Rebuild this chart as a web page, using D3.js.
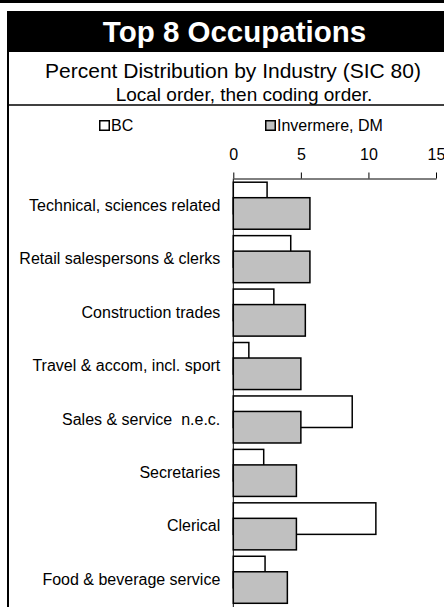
<!DOCTYPE html>
<html>
<head>
<meta charset="utf-8">
<script src="https://d3js.org/d3.v7.min.js"></script>
<style>
  body { margin: 0; background: #fff; }
  svg { display: block; font-family: "Liberation Sans", Arial, sans-serif; }
</style>
</head>
<body>
<div id="chart"></div>
<script>
//the 8 occupations, top to bottom
var categories = ["Technical, sciences related", "Retail salespersons & clerks", "Construction trades",
  "Travel & accom, incl. sport", "Sales & service  n.e.c.", "Secretaries", "Clerical", "Food & beverage service"];
var seriesNames = ["BC", "Invermere, DM"];
var bcValues = [2.5, 4.25, 3.0, 1.15, 8.8, 2.25, 10.55, 2.35];
var invValues = [5.67, 5.67, 5.33, 5.0, 5.0, 4.67, 4.67, 4.0];
var tickValues = [0, 5, 10, 15];

var width = 444;
var height = 607;

var svg = d3.select("#chart").append("svg")
    .attr("width", width)
    .attr("height", height);

///////////////////////////////////////////////////////////////////////////
//////////////////////////// Frame and titles /////////////////////////////
///////////////////////////////////////////////////////////////////////////

//thin black strip on top
svg.append("rect")
    .attr("x", 0).attr("y", 0)
    .attr("width", width).attr("height", 3)
    .attr("fill", "#000");

//title band
svg.append("rect")
    .attr("x", 7).attr("y", 11)
    .attr("width", width).attr("height", 41)
    .attr("fill", "#000");

svg.append("text")
    .attr("x", 234.5).attr("y", 42)
    .attr("text-anchor", "middle")
    .attr("fill", "#fff")
    .style("font-size", "29.5px")
    .style("font-weight", "bold")
    .text("Top 8 Occupations");

//left border and the line under the subtitle
svg.append("line")
    .attr("x1", 8).attr("x2", 8)
    .attr("y1", 52).attr("y2", height)
    .attr("stroke", "#000").attr("stroke-width", 2);

svg.append("line")
    .attr("x1", 8).attr("x2", width)
    .attr("y1", 105).attr("y2", 105)
    .attr("stroke", "#000").attr("stroke-width", 1.5);

svg.append("text")
    .attr("x", 233).attr("y", 78)
    .attr("text-anchor", "middle")
    .style("font-size", "21px")
    .text("Percent Distribution by Industry (SIC 80)");

svg.append("text")
    .attr("x", 244).attr("y", 101)
    .attr("text-anchor", "middle")
    .style("font-size", "19px")
    .text("Local order, then coding order.");

///////////////////////////////////////////////////////////////////////////
/////////////////////////////// Legend ////////////////////////////////////
///////////////////////////////////////////////////////////////////////////

var legendX = [99, 265];
var legendFill = ["#fff", "#c0c0c0"];

var legend = svg.selectAll(".legend")
    .data(seriesNames)
    .enter().append("g")
    .attr("class", "legend")
    .attr("transform", function(d, i) { return "translate(" + legendX[i] + ",120)"; });

legend.append("rect")
    .attr("x", 0.75).attr("y", 0.75)
    .attr("width", 9.5).attr("height", 9.5)
    .attr("fill", function(d, i) { return legendFill[i]; })
    .attr("stroke", "#000")
    .attr("stroke-width", 1.5);

legend.append("text")
    .attr("x", 12).attr("y", 10.5)
    .style("font-size", "16px")
    .text(function(d) { return d; });

///////////////////////////////////////////////////////////////////////////
//////////////////////////// Scales and axes //////////////////////////////
///////////////////////////////////////////////////////////////////////////

var x = d3.scaleLinear()
    .domain([0, 15])
    .range([233.3, 436]);

var y = d3.scaleBand()
    .domain(categories)
    .range([179, 606.5]);

//value axis on top, ticks pointing up
var xAxis = svg.append("g")
    .attr("transform", "translate(0,178.5)")
    .call(d3.axisTop(x).tickValues(tickValues).tickSize(6).tickSizeOuter(0).tickPadding(13));

xAxis.select(".domain").attr("stroke", "#000");
xAxis.selectAll(".tick line").attr("stroke", "#000");
xAxis.selectAll(".tick text")
    .style("font-size", "16px")
    .style("font-family", "\"Liberation Sans\", Arial, sans-serif")
    .attr("fill", "#000");

//category axis
var yAxis = svg.append("g")
    .attr("transform", "translate(233.3,0)")
    .call(d3.axisLeft(y).tickSize(0).tickPadding(13));

yAxis.select(".domain").attr("stroke", "#000").attr("d", "M0,178.5V" + height);
yAxis.selectAll(".tick text")
    .style("font-size", "16px")
    .style("font-family", "\"Liberation Sans\", Arial, sans-serif")
    .style("white-space", "pre")
    .attr("fill", "#000");

///////////////////////////////////////////////////////////////////////////
//////////////////////////////// Bars /////////////////////////////////////
///////////////////////////////////////////////////////////////////////////

var bw = y.bandwidth();
var barH = bw * 0.59;

//BC bars go behind
svg.append("g")
    .selectAll("rect")
    .data(bcValues)
    .enter().append("rect")
    .attr("x", x(0))
    .attr("y", function(d, i) { return y(categories[i]) + bw * 0.06; })
    .attr("width", function(d) { return x(d) - x(0); })
    .attr("height", barH)
    .attr("fill", "#fff")
    .attr("stroke", "#000")
    .attr("stroke-width", 1.5);

svg.append("g")
    .selectAll("rect")
    .data(invValues)
    .enter().append("rect")
    .attr("x", x(0))
    .attr("y", function(d, i) { return y(categories[i]) + bw * 0.35; })
    .attr("width", function(d) { return x(d) - x(0); })
    .attr("height", barH)
    .attr("fill", "#c0c0c0")
    .attr("stroke", "#000")
    .attr("stroke-width", 1.5);
</script>
</body>
</html>
